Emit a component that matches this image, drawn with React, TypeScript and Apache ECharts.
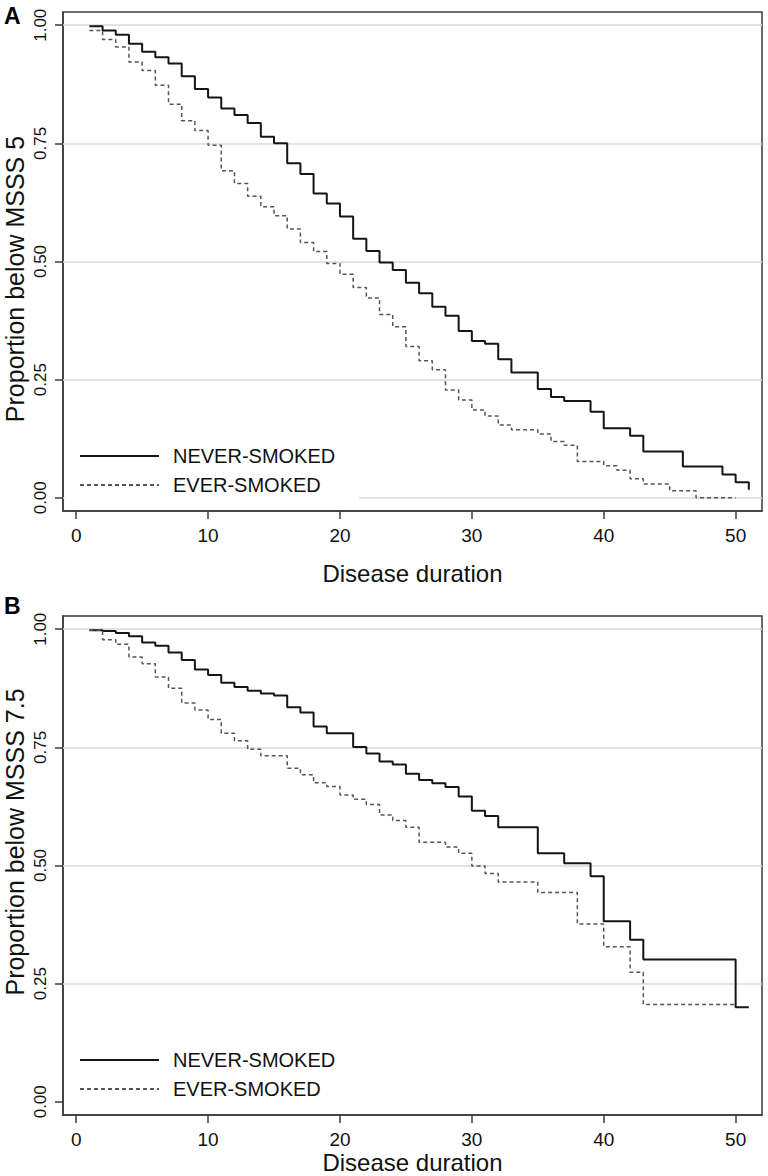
import React, { useEffect, useRef } from "react";
import * as echarts from "echarts";

// ---- data ----
const xTicks = [0, 10, 20, 30, 40, 50];
const yTicks = [0, 0.25, 0.5, 0.75, 1];
const gridLinesA = [0, 0.25, 0.5, 0.75, 1];
const gridLinesB = [0.25, 0.5, 0.75, 1];
const seriesNames = ["NEVER-SMOKED", "EVER-SMOKED"];

// Panel A: Proportion below MSSS 5
const neverATimes = [1, 2, 3, 4, 5, 6, 7, 8, 9, 10, 11, 12, 13, 14, 15, 16, 17, 18, 19, 20, 21, 22, 23, 24, 25, 26, 27, 28, 29, 30, 31, 32, 33, 35, 36, 37, 39, 40, 42, 43, 46, 49, 50, 51];
const neverAValues = [0.998, 0.989, 0.98, 0.961, 0.944, 0.932, 0.919, 0.892, 0.865, 0.847, 0.824, 0.81, 0.793, 0.764, 0.75, 0.708, 0.685, 0.644, 0.623, 0.595, 0.548, 0.522, 0.498, 0.482, 0.455, 0.433, 0.404, 0.385, 0.353, 0.332, 0.326, 0.293, 0.265, 0.23, 0.213, 0.205, 0.182, 0.147, 0.131, 0.098, 0.066, 0.049, 0.033, 0.017];
const everATimes = [1, 2, 3, 4, 5, 6, 7, 8, 9, 10, 11, 12, 13, 14, 15, 16, 17, 18, 19, 20, 21, 22, 23, 24, 25, 26, 27, 28, 29, 30, 31, 32, 33, 35, 36, 37, 38, 40, 41, 42, 43, 45, 47, 50];
const everAValues = [0.989, 0.97, 0.954, 0.922, 0.904, 0.873, 0.833, 0.798, 0.777, 0.746, 0.692, 0.665, 0.638, 0.616, 0.597, 0.569, 0.54, 0.521, 0.496, 0.473, 0.445, 0.423, 0.388, 0.362, 0.32, 0.29, 0.271, 0.228, 0.207, 0.186, 0.173, 0.154, 0.144, 0.135, 0.119, 0.111, 0.077, 0.068, 0.058, 0.04, 0.029, 0.015, 0.0, 0.0];

// Panel B: Proportion below MSSS 7.5
const neverBTimes = [1, 2, 3, 4, 5, 6, 7, 8, 9, 10, 11, 12, 13, 14, 15, 16, 17, 18, 19, 21, 22, 23, 24, 25, 26, 27, 28, 29, 30, 31, 32, 35, 37, 39, 40, 42, 43, 50, 51];
const neverBValues = [0.998, 0.996, 0.992, 0.985, 0.972, 0.965, 0.951, 0.935, 0.915, 0.903, 0.887, 0.878, 0.87, 0.864, 0.86, 0.835, 0.824, 0.794, 0.78, 0.751, 0.737, 0.72, 0.714, 0.694, 0.681, 0.674, 0.666, 0.646, 0.616, 0.605, 0.581, 0.526, 0.505, 0.477, 0.382, 0.343, 0.301, 0.2, 0.2];
const everBTimes = [1, 2, 3, 4, 5, 6, 7, 8, 9, 10, 11, 12, 13, 14, 16, 17, 18, 19, 20, 21, 22, 23, 24, 25, 26, 28, 29, 30, 31, 32, 35, 38, 40, 42, 43, 50];
const everBValues = [0.998, 0.978, 0.968, 0.941, 0.927, 0.899, 0.875, 0.844, 0.829, 0.809, 0.78, 0.764, 0.746, 0.732, 0.706, 0.692, 0.675, 0.667, 0.649, 0.64, 0.629, 0.607, 0.595, 0.581, 0.549, 0.539, 0.526, 0.499, 0.483, 0.465, 0.443, 0.376, 0.328, 0.274, 0.206, 0.206];

const FONT = 'Arial, "Liberation Sans", Helvetica, sans-serif';
const FRAME = "#3a3a3a";

const pairs = (t: number[], v: number[]) => t.map((x, i) => [x, v[i]]);

function App() {
  const ref = useRef<HTMLDivElement>(null);
  useEffect(() => {
    document.body.style.margin = "0";
    const chart = echarts.init(ref.current!, null, { renderer: "svg" });
    const grids = [
      { left: 63, top: 12, width: 699, height: 499 },
      { left: 63, top: 616, width: 699, height: 499 },
    ];
    const mkX = (gi: number) => ({
      type: "value",
      gridIndex: gi,
      min: -1,
      max: 52,
      axisLine: { show: true, onZero: false, lineStyle: { color: FRAME, width: 1.5 } },
      axisTick: { show: true, length: 8, customValues: xTicks, lineStyle: { color: FRAME, width: 1.5 } },
      axisLabel: { customValues: xTicks, fontSize: 19, color: "#111", fontFamily: FONT, margin: 15 },
      splitLine: { show: false },
    });
    const mkY = (gi: number) => ({
      type: "value",
      gridIndex: gi,
      min: -0.028,
      max: 1.028,
      axisLine: { show: true, onZero: false, lineStyle: { color: FRAME, width: 1.5 } },
      axisTick: { show: true, length: 8, customValues: yTicks, lineStyle: { color: FRAME, width: 1.5 } },
      axisLabel: {
        customValues: yTicks,
        rotate: 90,
        fontSize: 17,
        color: "#111",
        fontFamily: FONT,
        margin: 14,
        formatter: (v: number) => v.toFixed(2),
      },
      splitLine: { show: false },
    });
    const gridMark = (vals: number[]) => ({
      silent: true,
      symbol: "none",
      z: 1,
      label: { show: false },
      emphasis: { disabled: true },
      lineStyle: { color: "#d9d9d9", width: 1.5, type: "solid" },
      data: vals.map((v) => ({ yAxis: v })),
    });
    const solid = { color: "#151515", width: 2, type: "solid" };
    const dashed = { color: "#555555", width: 1.5, type: [4, 3] };
    const mkSeries = (gi: number, name: string, data: number[][], ls: any, marks?: number[]) => ({
      type: "line",
      name,
      xAxisIndex: gi,
      yAxisIndex: gi,
      data,
      step: "end",
      symbol: "none",
      showSymbol: false,
      lineStyle: ls,
      itemStyle: { color: ls.color },
      z: 3,
      ...(marks ? { markLine: gridMark(marks) } : {}),
    });
    const mkLegend = (top: number) => ({
      orient: "vertical",
      left: 64.5,
      top,
      padding: [8, 24, 14, 14.5],
      backgroundColor: "#ffffff",
      itemWidth: 79,
      itemHeight: 14,
      itemGap: 9,
      itemStyle: { opacity: 0 },
      textStyle: { fontSize: 20, color: "#111", fontFamily: FONT, lineHeight: 20, padding: [0, 0, 0, 9] },
      z: 10,
      data: seriesNames,
    });
    chart.setOption({
      animation: false,
      backgroundColor: "#ffffff",
      grid: grids.map((g) => ({ ...g, show: true, borderColor: FRAME, borderWidth: 1.5, backgroundColor: "transparent" })),
      xAxis: [mkX(0), mkX(1)],
      yAxis: [mkY(0), mkY(1)],
      legend: [
        { ...mkLegend(438) },
        { ...mkLegend(1042), backgroundColor: "transparent" },
      ],
      series: [
        mkSeries(0, seriesNames[0], pairs(neverATimes, neverAValues), solid, gridLinesA),
        mkSeries(0, seriesNames[1], pairs(everATimes, everAValues), dashed),
        mkSeries(1, seriesNames[0], pairs(neverBTimes, neverBValues), solid, gridLinesB),
        mkSeries(1, seriesNames[1], pairs(everBTimes, everBValues), dashed),
      ],
      graphic: [
        { type: "text", left: 4, top: 4, style: { text: "A", fontSize: 23, fontWeight: "bold", fill: "#000", fontFamily: FONT } },
        { type: "text", left: 4, top: 594, style: { text: "B", fontSize: 23, fontWeight: "bold", fill: "#000", fontFamily: FONT } },
        {
          type: "text", x: 15, y: 279, rotation: Math.PI / 2,
          style: { text: "Proportion below MSSS 5", fontSize: 25, fill: "#111", fontFamily: FONT, align: "center", verticalAlign: "middle" },
        },
        {
          type: "text", x: 15, y: 842, rotation: Math.PI / 2,
          style: { text: "Proportion below MSSS 7.5", fontSize: 25, fill: "#111", fontFamily: FONT, align: "center", verticalAlign: "middle" },
        },
        {
          type: "text", x: 412.5, y: 573,
          style: { text: "Disease duration", fontSize: 24, fill: "#111", fontFamily: FONT, align: "center", verticalAlign: "middle" },
        },
        {
          type: "text", x: 412.5, y: 1162,
          style: { text: "Disease duration", fontSize: 24, fill: "#111", fontFamily: FONT, align: "center", verticalAlign: "middle" },
        },
      ],
    });
    return () => chart.dispose();
  }, []);
  return <div ref={ref} style={{ width: 768, height: 1176 }} />;
}

export default App;
